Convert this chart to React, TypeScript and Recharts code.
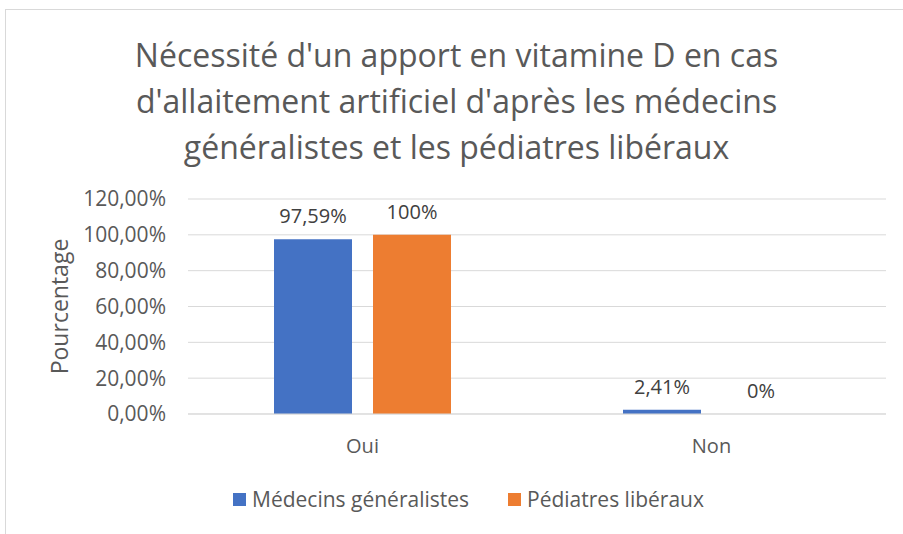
import React from 'react';
import { BarChart, Bar, XAxis, YAxis, CartesianGrid, LabelList, Legend, Label } from 'recharts';

const categories = ['Oui', 'Non'];
const medecinsValues = [97.59, 2.41];
const pediatresValues = [100, 0];
const yTicks = [0, 20, 40, 60, 80, 100, 120];
const seriesNames = ['Médecins généralistes', 'Pédiatres libéraux'];
const seriesColors = ['#4472C4', '#ED7D31'];
const titleLines = [
  "Nécessité d'un apport en vitamine D en cas",
  "d'allaitement artificiel d'après les médecins",
  'généralistes et les pédiatres libéraux',
];
const yAxisTitle = 'Pourcentage';

const data = categories.map((c, i) => ({ cat: c, medecins: medecinsValues[i], pediatres: pediatresValues[i] }));

const FONT = '"Open Sans", sans-serif';
const TEXT = '#595959';

const fmtTick = (v: number) => v.toFixed(2).replace('.', ',') + '%';
const fmtLabel = (v: any) => String(v).replace('.', ',') + '%';
const tinyMin = (v: any) => (v === 0 ? 0.01 : 0);

const LegendContent = () => (
  <div style={{ display: 'flex', alignItems: 'center', fontFamily: FONT, fontSize: 21, color: TEXT, lineHeight: '27px' }}>
    {seriesNames.map((n, i) => (
      <div key={n} style={{ display: 'flex', alignItems: 'center', marginRight: 39 }}>
        <span style={{ display: 'inline-block', width: 13, height: 13, background: seriesColors[i], marginRight: 6 }} />
        <span>{n}</span>
      </div>
    ))}
  </div>
);

export default function App() {
  return (
    <div style={{ position: 'absolute', left: 0, top: 0, width: 903, height: 534, background: '#fff', overflow: 'hidden' }}>
      <div style={{ position: 'absolute', left: 5, top: 9, width: 1000, height: 1000, border: '1px solid #D9D9D9', boxSizing: 'border-box' }} />
      <div style={{ position: 'absolute', left: 13, top: 32, width: 887, textAlign: 'center', fontFamily: FONT, fontSize: 32, lineHeight: '46px', color: TEXT }}>
        {titleLines.map((l) => (
          <div key={l}>{l}</div>
        ))}
      </div>
      <div style={{ position: 'absolute', left: 0, top: 0 }}>
        <BarChart width={903} height={534} data={data} margin={{ top: 199, right: 17, bottom: 63, left: 0 }} barSize={78} barGap={21}>
          <CartesianGrid horizontal vertical={false} stroke="#D9D9D9" />
          <XAxis dataKey="cat" height={30} axisLine={{ stroke: '#D9D9D9' }} tickLine={false} tickMargin={19}
            tick={{ fill: TEXT, fontSize: 20, fontFamily: FONT }} />
          <YAxis width={188} domain={[0, 120]} ticks={yTicks} tickFormatter={fmtTick} axisLine={false} tickLine={false}
            tickMargin={16} tick={{ fill: TEXT, fontSize: 21, fontFamily: FONT }} interval={0}>
            <Label value={yAxisTitle} angle={-90} position="center" dx={-34}
              style={{ fill: TEXT, fontSize: 23, fontFamily: FONT, textAnchor: 'middle' }} />
          </YAxis>
          <Legend verticalAlign="bottom" content={<LegendContent />} wrapperStyle={{ left: 233, top: 486, width: 650 }} />
          <Bar dataKey="medecins" name={seriesNames[0]} fill={seriesColors[0]} isAnimationActive={false} minPointSize={tinyMin}>
            <LabelList dataKey="medecins" position="top" offset={16} formatter={fmtLabel}
              style={{ fill: '#404040', fontSize: 20, fontFamily: FONT }} />
          </Bar>
          <Bar dataKey="pediatres" name={seriesNames[1]} fill={seriesColors[1]} isAnimationActive={false} minPointSize={tinyMin}>
            <LabelList dataKey="pediatres" position="top" offset={16} formatter={fmtLabel}
              style={{ fill: '#404040', fontSize: 20, fontFamily: FONT }} />
          </Bar>
        </BarChart>
      </div>
    </div>
  );
}
